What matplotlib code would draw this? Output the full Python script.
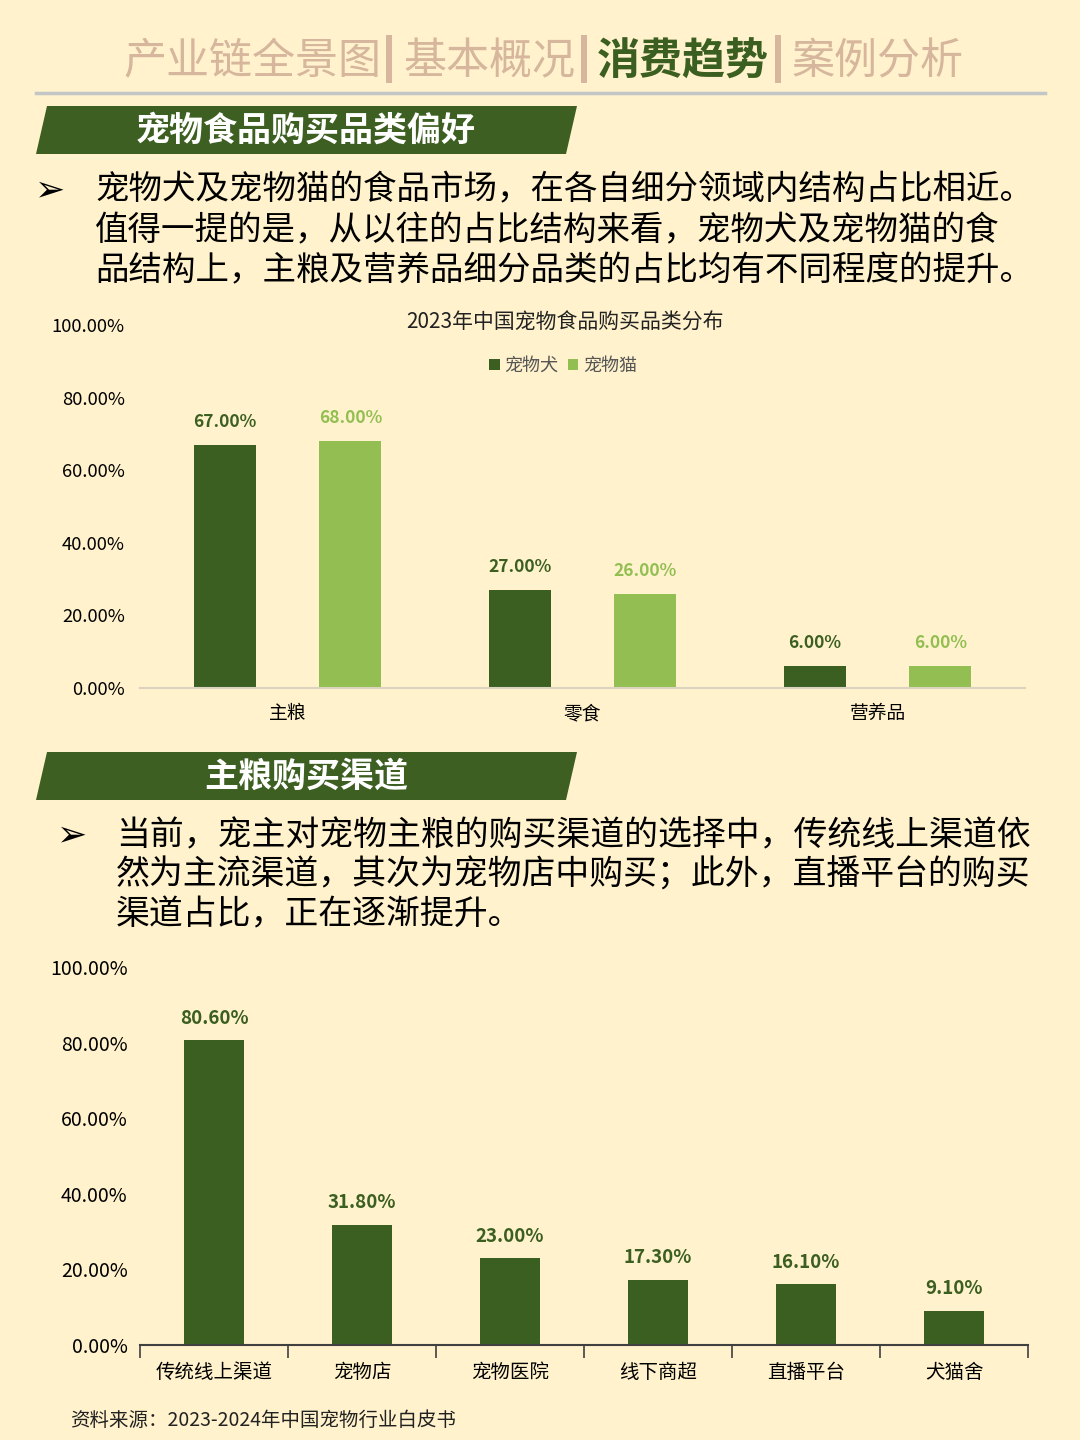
import matplotlib
matplotlib.use("Agg")
import matplotlib.pyplot as plt
from matplotlib.patches import Polygon, Rectangle
from matplotlib.lines import Line2D
import numpy as np

plt.rcParams["font.family"] = ["Noto Sans CJK SC", "DejaVu Sans"]

# ---- data ----
cat1 = ["主粮", "零食", "营养品"]
dog = [67.0, 27.0, 6.0]
cat = [68.0, 26.0, 6.0]
series1 = ["宠物犬", "宠物猫"]

cat2 = ["传统线上渠道", "宠物店", "宠物医院", "线下商超", "直播平台", "犬猫舍"]
channel = [80.6, 31.8, 23.0, 17.3, 16.1, 9.1]

nav_items = ["产业链全景图", "基本概况", "消费趋势", "案例分析"]
title1 = "宠物食品购买品类偏好"
title2 = "主粮购买渠道"
bullet1 = ["宠物犬及宠物猫的食品市场，在各自细分领域内结构占比相近。",
           "值得一提的是，从以往的占比结构来看，宠物犬及宠物猫的食",
           "品结构上，主粮及营养品细分品类的占比均有不同程度的提升。"]
bullet2 = ["当前，宠主对宠物主粮的购买渠道的选择中，传统线上渠道依",
           "然为主流渠道，其次为宠物店中购买；此外，直播平台的购买",
           "渠道占比，正在逐渐提升。"]
chart1_title = "2023年中国宠物食品购买品类分布"
source = "资料来源：2023-2024年中国宠物行业白皮书"

BG = "#FFF2CC"
DARK = "#3B5E21"
LIGHT = "#92BE52"
TAN = "#D6B69C"

W, H = 1080, 1440
fig = plt.figure(figsize=(W / 100, H / 100), dpi=100, facecolor=BG)


def fx(x):
    return x / W


def fy(y):
    return 1 - y / H


def txt(x, y, s, **kw):
    fig.text(fx(x), fy(y), s, **kw)


# ---- top navigation ----
nav_x = [123, 403, 597, 792]
bar_x = [389, 584, 778]
for i, (x, s) in enumerate(zip(nav_x, nav_items)):
    active = i == 2
    txt(x, 62, s, fontsize=31, color=DARK if active else TAN,
        fontweight="bold" if active else "normal", va="center", ha="left")
for x in bar_x:
    fig.add_artist(Rectangle((fx(x - 3), fy(83)), 6 / W, 48 / H,
                             transform=fig.transFigure, color=TAN, lw=0))
fig.add_artist(Line2D([fx(36), fx(1045)], [fy(93), fy(93)],
                      transform=fig.transFigure, color="#C3C6C6", lw=2.5))


def banner(ytop, ybot, text, tx):
    pts = [(fx(47), fy(ytop)), (fx(577), fy(ytop)), (fx(566), fy(ybot)), (fx(36), fy(ybot))]
    fig.add_artist(Polygon(pts, closed=True, transform=fig.transFigure,
                           facecolor="#3D5F21", edgecolor="none"))
    txt(tx, (ytop + ybot) / 2, text, fontsize=24.5, fontweight="bold",
        color="white", ha="center", va="center")


banner(106, 154, title1, 306)
banner(752, 800, title2, 306)

# ---- bullet texts ----
txt(50, 190, "➢", fontsize=26, ha="center", va="center", color="black")
for i, line in enumerate(bullet1):
    txt(95, 190 + i * 40.5, line, fontsize=24.1, ha="left", va="center", color="black")

txt(72, 835, "➢", fontsize=26, ha="center", va="center", color="black")
for i, line in enumerate(bullet2):
    txt(116, 835 + i * 40, line, fontsize=24.4, ha="left", va="center", color="black")

# ---- chart 1 ----
ax1 = fig.add_axes([fx(140), fy(688), 885 / W, 363 / H])
ax1.set_facecolor("none")
x1 = np.arange(len(cat1)) + 0.5
bw = 0.21
off = 0.213
b1 = ax1.bar(x1 - off, dog, bw, color=DARK, label=series1[0])
b2 = ax1.bar(x1 + off, cat, bw, color=LIGHT, label=series1[1])
for rects, vals, c in [(b1, dog, DARK), (b2, cat, LIGHT)]:
    for r, v in zip(rects, vals):
        ax1.annotate(f"{v:.2f}%", (r.get_x() + r.get_width() / 2, v),
                     xytext=(0, 10), textcoords="offset points", ha="center",
                     va="bottom", fontsize=12.5, fontweight="bold", color=c)
ax1.set_xlim(0, 3)
ax1.set_ylim(0, 100)
ax1.set_yticks(np.arange(0, 101, 20))
ax1.set_yticklabels([f"{v:.2f}%" for v in np.arange(0, 101, 20)], fontsize=13.3)
ax1.set_xticks(x1)
ax1.set_xticklabels(cat1, fontsize=13.5)
ax1.tick_params(axis="y", length=0, pad=11)
ax1.tick_params(axis="x", length=0, pad=11)
for s in ["top", "right", "left"]:
    ax1.spines[s].set_visible(False)
ax1.spines["bottom"].set_color("#D9D3BF")
ax1.spines["bottom"].set_linewidth(1.5)
txt(565, 323, chart1_title, fontsize=15, ha="center", va="center", color="#222222")
fig.legend(handles=[b1, b2], labels=series1, loc="center",
           bbox_to_anchor=(fx(563), fy(366)), ncol=2, frameon=False,
           fontsize=13, handlelength=0.6, handleheight=0.6, handletextpad=0.25,
           columnspacing=0.5, labelcolor="#555555")

# ---- chart 2 ----
ax2 = fig.add_axes([fx(140), fy(1345), 888 / W, 378 / H])
ax2.set_facecolor("none")
x2 = np.arange(len(cat2)) + 0.5
b3 = ax2.bar(x2, channel, 0.4, color=DARK)
for r, v in zip(b3, channel):
    ax2.annotate(f"{v:.2f}%", (r.get_x() + r.get_width() / 2, v),
                 xytext=(0, 9), textcoords="offset points", ha="center",
                 va="bottom", fontsize=13.5, fontweight="bold", color=DARK)
ax2.set_xlim(0, 6)
ax2.set_ylim(0, 100)
ax2.set_yticks(np.arange(0, 101, 20))
ax2.set_yticklabels([f"{v:.2f}%" for v in np.arange(0, 101, 20)], fontsize=14)
ax2.set_xticks(x2)
ax2.set_xticklabels(cat2, fontsize=14)
ax2.set_xticks(np.arange(0, 7), minor=True)
ax2.tick_params(axis="y", length=0, pad=9)
ax2.tick_params(axis="x", which="major", length=0, pad=12)
ax2.tick_params(axis="x", which="minor", length=9, width=1.2, color="#404040")
for s in ["top", "right", "left"]:
    ax2.spines[s].set_visible(False)
ax2.spines["bottom"].set_color("#404040")
ax2.spines["bottom"].set_linewidth(1.5)

txt(70, 1420, source, fontsize=14, ha="left", va="center", color="#222222")

fig.savefig("out.png", dpi=100, facecolor=BG)
